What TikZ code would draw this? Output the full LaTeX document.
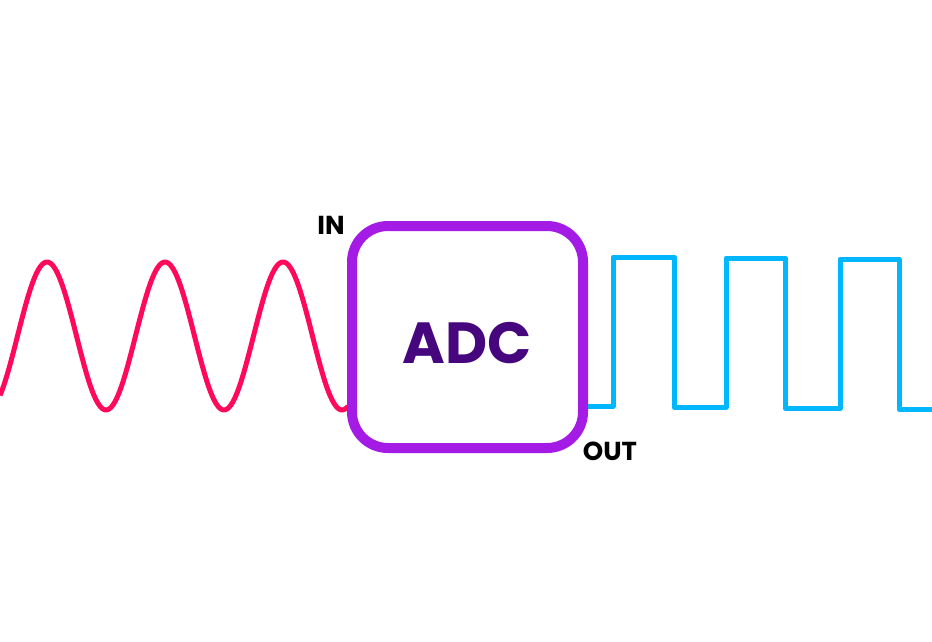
\documentclass[tikz,border=0pt]{standalone}
\usepackage{fontspec}
\setmainfont{Poppins}
\definecolor{sigred}{HTML}{FF0A5A}
\definecolor{sigblue}{HTML}{00B6FF}
\definecolor{boxviolet}{HTML}{A41BE6}
\definecolor{textviolet}{HTML}{46067E}
\tikzset{
  adcbox/.style={draw=boxviolet, line width=10pt, rounded corners=36pt,
    minimum width=231pt, minimum height=222pt, inner sep=0pt,
    text height=52pt, text depth=0pt,
    text=textviolet, font=\bfseries\fontsize{58}{60}\selectfont},
  pinlabel/.style={font=\bfseries\fontsize{26}{28}\selectfont, inner sep=0pt},
  wave/.style={line width=5pt, line join=round, line cap=butt}
}
\begin{document}
\begin{tikzpicture}[x=1pt, y=-1pt]
  \useasboundingbox (0,0) rectangle (932,642);
  % analog input
  \draw[wave, sigred] plot[domain=0:348, samples=200, smooth]
    (\x, {336 - 74*sin((\x-17.5)*3.0508)});
  % converter
  \node[adcbox] (adc) at (467.5,337) {ADC};
  \node[pinlabel] (in) at (331,225) {IN};
  \node[pinlabel] (out) at (610,451) {OUT};
  % digital output
  \coordinate (outstart) at (588,406);
  \draw[wave, sigblue] (outstart) -- (613,406) -- (613,257) -- (674,257)
    -- (674,407) -- (726,407) -- (726,258) -- (785,258) -- (785,408)
    -- (840,408) -- (840,259) -- (899,259) -- (899,409) -- (932,409);
\end{tikzpicture}
\end{document}
